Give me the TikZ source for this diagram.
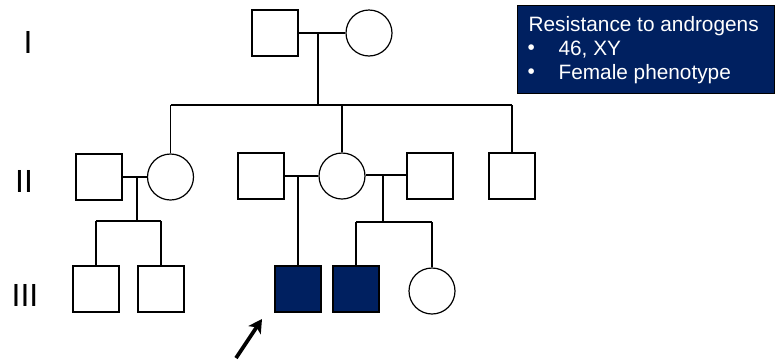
\documentclass[tikz,border=0pt]{standalone}
\usepackage{fontspec}
\setmainfont{Liberation Sans}
\usetikzlibrary{arrows.meta}
\definecolor{navy}{RGB}{0,32,96}
\begin{document}
\begin{tikzpicture}[x=0.75pt,y=-0.75pt,
  line width=0.9pt,
  male/.style={draw, minimum size=34.5pt, inner sep=0pt, fill=white},
  female/.style={circle, draw, minimum size=34.5pt, inner sep=0pt, fill=white},
  affected/.style={male, fill=navy},
  gen/.style={font=\fontsize{24}{28}\selectfont},
  legtext/.style={text=white, anchor=west, inner sep=0pt, font=\fontsize{15.6}{18}\selectfont},
  heavy/.style={line width=1.6pt}]
\useasboundingbox (0,0) rectangle (775,361);

% generation labels
\node[gen] (gI) at (28,42) {I};
\node[gen] (gII) at (24,181) {II};
\node[gen] (gIII) at (25,295) {III};

% generation I
\node[male] (I1) at (275,33) {};
\node[female] (I2) at (369,33) {};

% generation II
\node[male] (II1) at (99,177) {};
\node[female] (II2) at (170.5,177) {};
\node[male] (II3) at (261,176) {};
\node[female] (II4) at (342,176) {};
\node[male] (II5) at (430,176) {};
\node[male] (II6) at (512,176) {};

% generation III
\node[male] (III1) at (96,289) {};
\node[male] (III2) at (161,289) {};
\node[affected] (III3) at (298,289) {};
\node[affected] (III4) at (356,289) {};
\node[female] (III5) at (432,291) {};

% coordinates for line junctions
\coordinate (m1) at (318,33);
\coordinate (s1) at (318,105);
\coordinate (m2) at (137,177);
\coordinate (s2) at (137,221);
\coordinate (m3) at (298,177);
\coordinate (m4) at (383,175);
\coordinate (s4) at (383,222);

% generation I mating and sibship
\draw (I1.east) -- (I2.west);
\draw (m1) -- (s1);
\draw (II2.north |- s1) -- (II6.north |- s1);
\draw (II2.north) -- (II2.north |- s1);
\draw (II4.north) -- (II4.north |- s1);
\draw (II6.north) -- (II6.north |- s1);

% II1 x II2
\draw (II1.east) -- (II2.west);
\draw (m2) -- (s2);
\draw (III1.north |- s2) -- (III2.north |- s2);
\draw (III1.north) -- (III1.north |- s2);
\draw (III2.north) -- (III2.north |- s2);

% II3 x II4
\draw (II3.east) -- (II4.west);
\draw (m3) -- (III3.north);

% II4 x II5
\draw[heavy] (II4.east |- m4) -- (II5.west |- m4);
\draw (m4) -- (s4);
\draw (III4.north |- s4) -- (III5.north |- s4);
\draw (III4.north) -- (III4.north |- s4);
\draw (III5.north) -- (III5.north |- s4);

% proband arrow
\coordinate (a0) at (236,358);
\coordinate (a1) at (262,319);
\draw[line width=2.8pt, -{Stealth[length=10pt,width=11pt,inset=2.5pt]}] (a0) -- (a1);

% legend
\node[draw=black, line width=0.5pt, fill=navy, minimum width=192.75pt, minimum height=66pt, inner sep=0pt, anchor=north west] (leg) at (517,5) {};
\node[legtext] (l1) at (528,26) {Resistance to androgens};
\node[legtext] (b2) at (527,50) {\textbullet};
\node[legtext] (l2) at (558,50) {46, XY};
\node[legtext] (b3) at (527,74) {\textbullet};
\node[legtext] (l3) at (558,74) {Female phenotype};
\end{tikzpicture}
\end{document}
